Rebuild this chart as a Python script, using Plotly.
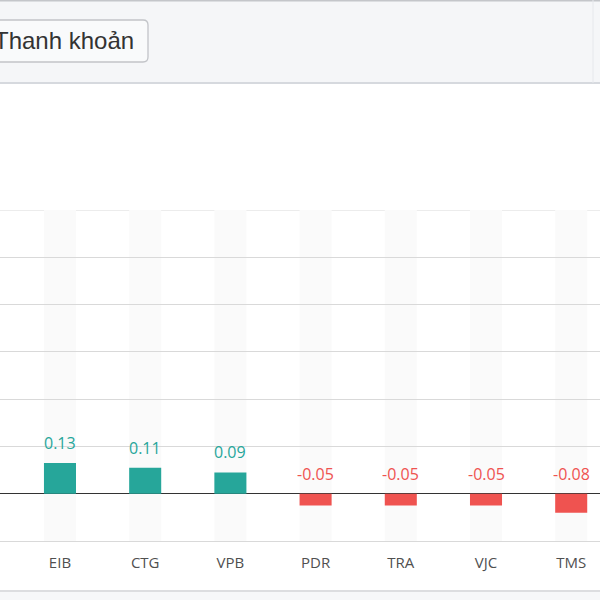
import plotly.graph_objects as go

# ---- data ----
categories = ["EIB", "CTG", "VPB", "PDR", "TRA", "VJC", "TMS"]
values = [0.13, 0.11, 0.09, -0.05, -0.05, -0.05, -0.08]
button_label = "Thanh khoản"
y_min, y_max, y_step = -0.2, 1.2, 0.2

UP, DOWN = "#26a69a", "#ef5350"
colors = [UP if v >= 0 else DOWN for v in values]
BAR_W = 0.376

W, H = 600, 600
T, B = 210, 59
PH = H - T - B


def xp(px):
    return px / W


def yp(py):
    return (H - B - py) / PH


fig = go.Figure()
fig.add_trace(go.Bar(
    x=categories, y=values, marker=dict(color=colors, line=dict(width=0)),
    width=BAR_W, hoverinfo="x+y", showlegend=False,
))

shapes = []
# background column bands
for i, _ in enumerate(categories):
    shapes.append(dict(type="rect", xref="x", yref="y", layer="below",
                       x0=i - BAR_W / 2, x1=i + BAR_W / 2, y0=y_min, y1=y_max,
                       fillcolor="#fafafa", line=dict(width=0)))
# top gridline (range edge)
shapes.append(dict(type="line", xref="paper", yref="y", layer="below",
                   x0=0, x1=1, y0=y_max, y1=y_max,
                   line=dict(color="#d9d9d9", width=1)))

# toolbar
shapes.append(dict(type="rect", xref="paper", yref="paper", layer="above",
                   x0=xp(-5), x1=xp(605), y0=yp(83), y1=yp(-5),
                   fillcolor="#f5f6f8", line=dict(width=0)))
shapes.append(dict(type="line", xref="paper", yref="paper",
                   x0=xp(-5), x1=xp(605), y0=yp(0.5), y1=yp(0.5),
                   line=dict(color="#c4c6ca", width=2)))
shapes.append(dict(type="line", xref="paper", yref="paper",
                   x0=xp(-5), x1=xp(605), y0=yp(83), y1=yp(83),
                   line=dict(color="#d6d9de", width=2)))
shapes.append(dict(type="line", xref="paper", yref="paper",
                   x0=xp(593), x1=xp(593), y0=yp(83), y1=yp(0),
                   line=dict(color="#e6e8ec", width=1)))
# button (rounded rect)
bx0, bx1, by0, by1, r = -10, 148, 20, 62, 5
path = (f"M {xp(bx0)},{yp(by0)} L {xp(bx1 - r)},{yp(by0)} "
        f"Q {xp(bx1)},{yp(by0)} {xp(bx1)},{yp(by0 + r)} "
        f"L {xp(bx1)},{yp(by1 - r)} Q {xp(bx1)},{yp(by1)} {xp(bx1 - r)},{yp(by1)} "
        f"L {xp(bx0)},{yp(by1)} Z")
shapes.append(dict(type="path", xref="paper", yref="paper", path=path,
                   fillcolor="#f9fafb", line=dict(color="#c2c4c8", width=1.3)))
# bottom border
shapes.append(dict(type="rect", xref="paper", yref="paper",
                   x0=xp(-5), x1=xp(605), y0=yp(605), y1=yp(591),
                   fillcolor="#f6f7f9", line=dict(width=0)))
shapes.append(dict(type="line", xref="paper", yref="paper",
                   x0=xp(-5), x1=xp(605), y0=yp(591), y1=yp(591),
                   line=dict(color="#dcdde0", width=2)))

annotations = []
for c, v, col in zip(categories, values, colors):
    annotations.append(dict(x=c, y=max(v, 0), xref="x", yref="y", text=f"{v:.2f}",
                            showarrow=False, yanchor="bottom", yshift=7,
                            font=dict(family="Open Sans", size=16, color=col)))
annotations.append(dict(x=xp(136), y=yp(41), xref="paper", yref="paper",
                        text=button_label, showarrow=False, xanchor="right",
                        yanchor="middle",
                        font=dict(family="Liberation Sans, Arial", size=24, color="#333333")))

fig.update_layout(
    width=W, height=H,
    margin=dict(l=0, r=0, t=T, b=B, pad=0),
    paper_bgcolor="white", plot_bgcolor="white",
    barmode="overlay",
    shapes=shapes, annotations=annotations,
    xaxis=dict(range=[-0.704, 6.338], showgrid=False, ticks="",
               tickfont=dict(family="Open Sans", size=15, color="#505050"),
               ticklabelstandoff=8, showline=True, linecolor="#d9d9d9", linewidth=1,
               fixedrange=True),
    yaxis=dict(range=[y_min, y_max], dtick=y_step, tick0=0, showticklabels=False,
               gridcolor="#d9d9d9", gridwidth=1, zeroline=True,
               zerolinecolor="#333333", zerolinewidth=1, fixedrange=True),
    showlegend=False,
)

fig.write_html("out.html", config={"displayModeBar": False},
               post_script="document.body.style.margin='0';document.body.style.overflow='hidden';")
